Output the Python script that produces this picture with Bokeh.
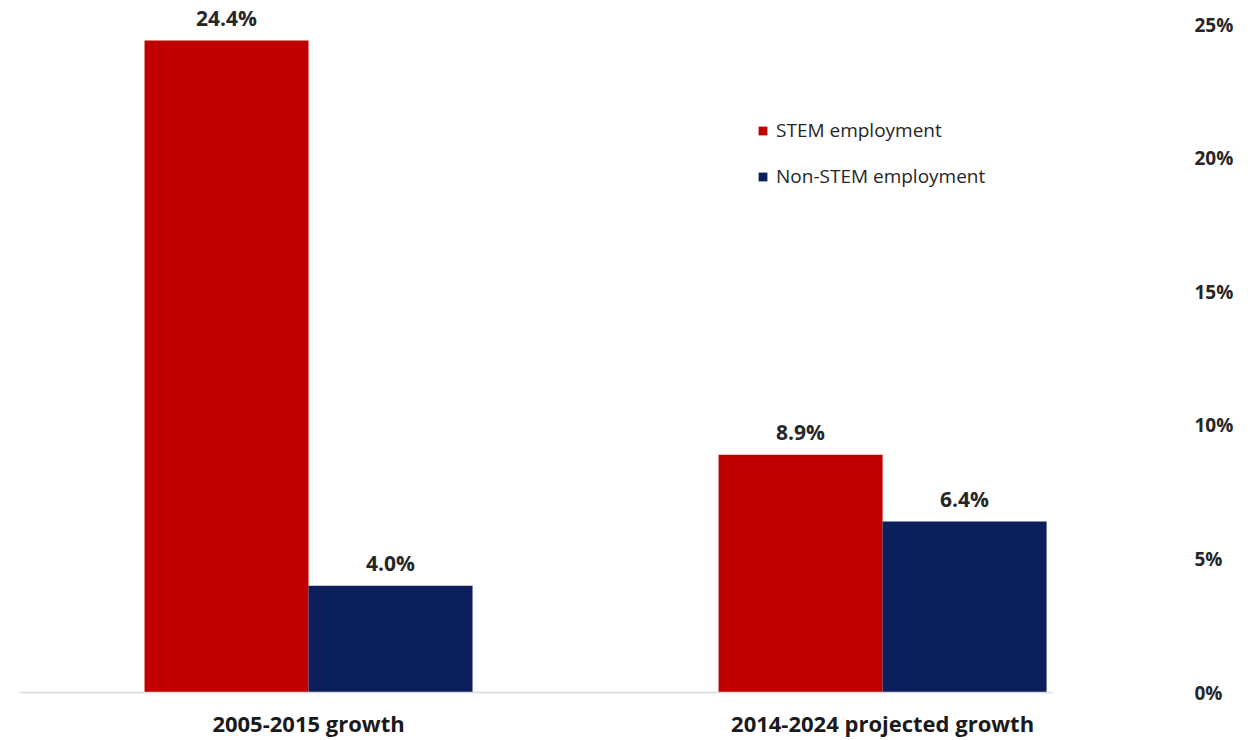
from bokeh.plotting import figure
from bokeh.models import (ColumnDataSource, Range1d, FixedTicker, PrintfTickFormatter,
                          Legend, LegendItem, LabelSet)
from bokeh.core.properties import value
from bokeh.embed import file_html
from bokeh.resources import INLINE

categories = ["2005-2015 growth", "2014-2024 projected growth"]
stem = [24.4, 8.9]
non_stem = [4.0, 6.4]
y_ticks = [0, 5, 10, 15, 20, 25]

RED = "#C00000"
NAVY = "#0B1F5C"
FONT = "Open Sans"

idx = list(range(len(categories)))
bw = 0.2857
src_s = ColumnDataSource(dict(x=[i - bw / 2 for i in idx], y=stem,
                              lab=[f"{v:.1f}%" for v in stem]))
src_n = ColumnDataSource(dict(x=[i + bw / 2 for i in idx], y=non_stem,
                              lab=[f"{v:.1f}%" for v in non_stem]))

p = figure(width=1256, height=740, output_backend="svg", toolbar_location=None,
           x_range=Range1d(-0.5035, 1.296), y_range=Range1d(0, 25.9),
           y_axis_location="right")
p.min_border_left = 19
p.min_border_right = 204
p.min_border_top = 0
p.min_border_bottom = 48
p.outline_line_color = None
p.xgrid.visible = False
p.ygrid.visible = False
p.background_fill_color = "white"
p.border_fill_color = "white"

r1 = p.vbar(x="x", top="y", width=bw, source=src_s, fill_color=RED, line_color=None)
r2 = p.vbar(x="x", top="y", width=bw, source=src_n, fill_color=NAVY, line_color=None)

for src in (src_s, src_n):
    p.add_layout(LabelSet(x="x", y="y", text="lab", source=src, text_align="center",
                          text_baseline="bottom", y_offset=9, text_font=value(FONT),
                          text_font_size="21px", text_font_style="bold",
                          text_color="#262626"))

xa = p.xaxis[0]
xa.ticker = FixedTicker(ticks=idx)
xa.major_label_overrides = {i: c for i, c in zip(idx, categories)}
xa.axis_line_color = "#d9d9d9"
xa.axis_line_width = 1.5
xa.major_tick_line_color = None
xa.minor_tick_line_color = None
xa.major_label_standoff = 9
xa.major_label_text_font = FONT
xa.major_label_text_font_size = "22px"
xa.major_label_text_font_style = "bold"
xa.major_label_text_color = "#1a1a1a"

ya = p.yaxis[0]
ya.ticker = FixedTicker(ticks=y_ticks)
ya.formatter = PrintfTickFormatter(format="%d%%")
ya.axis_line_color = None
ya.major_tick_line_color = None
ya.minor_tick_line_color = None
ya.major_label_standoff = 136
ya.major_label_text_font = FONT
ya.major_label_text_font_size = "19px"
ya.major_label_text_font_style = "bold"
ya.major_label_text_color = "#262626"

legend = Legend(items=[LegendItem(label="STEM employment", renderers=[r1]),
                       LegendItem(label="Non-STEM employment", renderers=[r2])],
                location=(738, 503), orientation="vertical",
                glyph_width=11, glyph_height=11, label_height=20, spacing=20,
                padding=0, margin=0, label_standoff=8,
                label_text_font=FONT, label_text_font_size="19px",
                label_text_color="#262626", border_line_color=None,
                background_fill_alpha=0)
p.add_layout(legend)

open("out.html", "w").write(file_html(p, INLINE))
